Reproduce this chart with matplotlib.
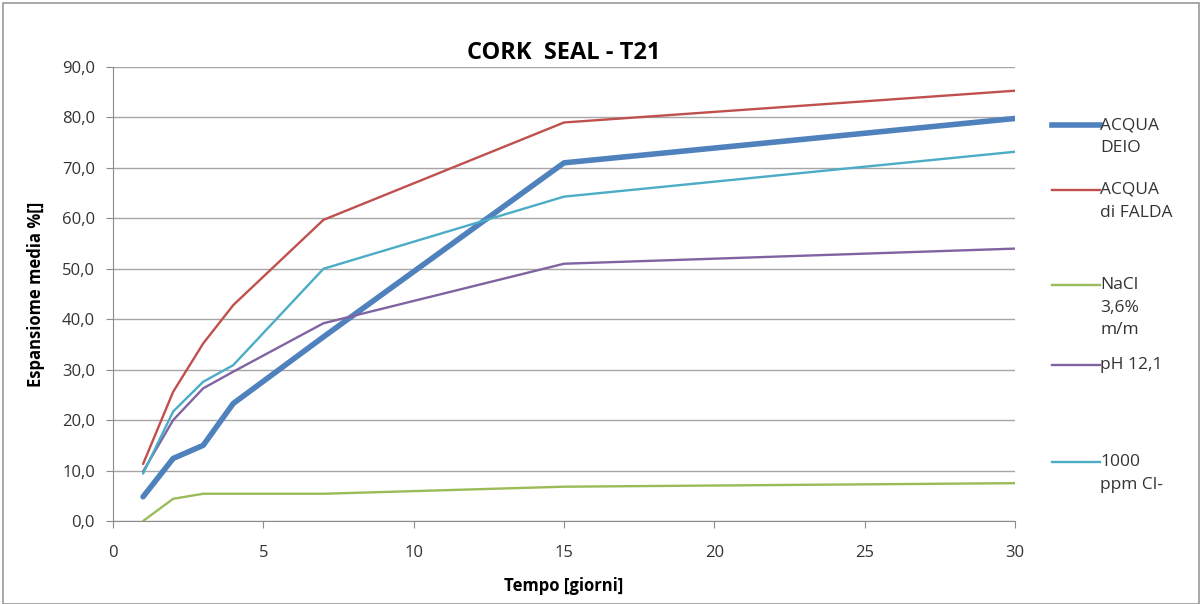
import matplotlib
matplotlib.use("Agg")
import matplotlib.pyplot as plt
from matplotlib.lines import Line2D
from matplotlib.patches import Rectangle
from matplotlib.ticker import FuncFormatter

plt.rcParams["font.family"] = ["Open Sans", "DejaVu Sans"]

# ---- data ----
days = [1, 2, 3, 4, 7, 15, 30]
acqua_deio = [4.8, 12.4, 15.0, 23.3, 36.5, 71.0, 79.8]
acqua_falda = [11.3, 25.6, 35.2, 42.8, 59.7, 79.0, 85.3]
nacl = [0.0, 4.4, 5.4, 5.4, 5.4, 6.8, 7.5]
ph = [9.8, 20.0, 26.3, 29.6, 39.2, 51.0, 54.0]
cl_1000 = [9.4, 21.7, 27.6, 30.9, 50.0, 64.3, 73.2]

labels = ["ACQUA\nDEIO", "ACQUA\ndi FALDA", "NaCl\n3,6%\nm/m", "pH 12,1", "1000\nppm Cl-"]
colors = ["#4F81BD", "#C0504D", "#9BBB59", "#8064A2", "#4BACC6"]
widths = [4.0, 1.7, 1.7, 1.7, 1.7]
series = [acqua_deio, acqua_falda, nacl, ph, cl_1000]

W, H = 1202, 604
fig = plt.figure(figsize=(W / 100, H / 100), dpi=100)
ax = fig.add_axes([113 / W, 1 - 521 / H, (1015 - 113) / W, (521 - 67) / H])

for vals, c, lw in zip(series, colors, widths):
    ax.plot(days, vals, color=c, lw=lw, solid_capstyle="round", zorder=3)

ax.set_xlim(0, 30)
ax.set_ylim(0, 90)
ax.set_xticks(range(0, 31, 5))
ax.set_yticks(range(0, 91, 10))
ax.yaxis.set_major_formatter(FuncFormatter(lambda v, p: f"{v:.1f}".replace(".", ",")))
ax.grid(axis="y", color="#A6A6A6", lw=1.0)
ax.set_axisbelow(True)
for s in ["top", "right"]:
    ax.spines[s].set_visible(False)
for s in ["left", "bottom"]:
    ax.spines[s].set_color("#8C8C8C")
ax.tick_params(colors="#8C8C8C", labelcolor="#333333", labelsize=12, length=5)
ax.tick_params(axis="x", pad=12)
ax.tick_params(axis="y", pad=8)

ax.set_title("CORK  SEAL - T21", fontsize=17, fontweight="bold", pad=6)
ax.set_xlabel("Tempo [giorni]", fontsize=12, fontweight="bold", labelpad=12)
ax.set_ylabel("Espansiome media %[]", fontsize=12, fontweight="bold", labelpad=12)

# manual legend at the right side
leg_y = [125, 190, 285, 365, 462]
for lab, c, lw, y in zip(labels, colors, widths, leg_y):
    fig.add_artist(Line2D([1052 / W, 1100 / W], [1 - y / H, 1 - y / H],
                          color=c, lw=lw, transform=fig.transFigure))
    fig.text(1100 / W, 1 - (y - 8) / H, lab, fontsize=12.5, color="#333333",
             va="top", ha="left", linespacing=1.55)

fig.add_artist(Rectangle((3 / W, 0), (W - 6) / W, 1 - 3 / H, transform=fig.transFigure,
                         fill=False, edgecolor="#9A9A9A", lw=1.2))

fig.savefig("out.png", dpi=100)
